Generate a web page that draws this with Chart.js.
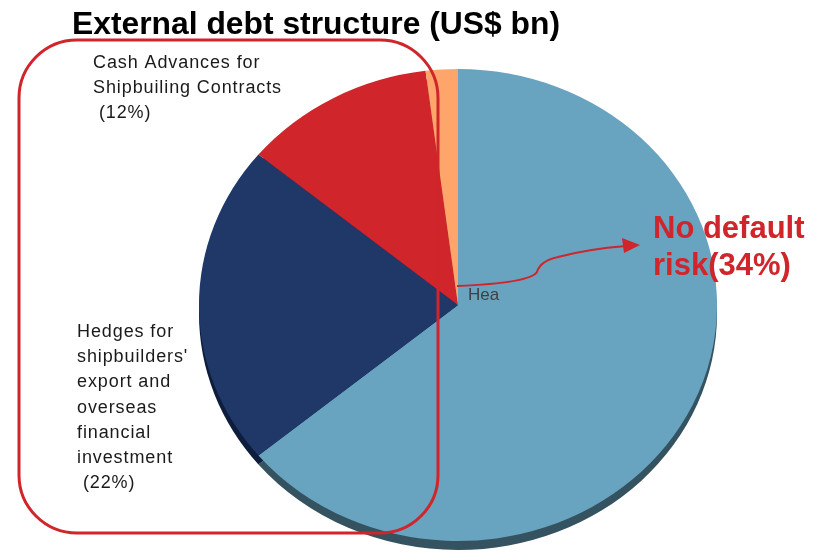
<!DOCTYPE html>
<html>
<head>
<meta charset="utf-8">
<title>External debt structure</title>
<script src="https://cdn.jsdelivr.net/npm/chart.js@4.4.1/dist/chart.umd.min.js"></script>
<style>
  html, body { margin: 0; padding: 0; background: #ffffff; }
  #wrap { position: relative; width: 824px; height: 554px; }
</style>
</head>
<body>
<div id="wrap"><canvas id="debt-chart"></canvas></div>
<script>
// Slices, clockwise from 12 o'clock
const categories = ['Hea', "Hedges for shipbuilders' export and overseas financial investment", 'Cash Advances for Shipbuiling Contracts', 'Other'];
const shares = [64, 22, 12, 2];
const sliceColors = ['#68a3c0', '#1f3868', '#cf252b', '#fda56b'];
const sideColors = ['#34525f', '#0e1d3b', '#7a1518', '#a8623a'];

const titleText = 'External debt structure (US$ bn)';
const RED = '#cf252b';
const FONT = '"Liberation Sans", Arial, sans-serif';

// pie is drawn as a circle then stretched sideways into a tilted disc
const STRETCH = 259 / 236;
const DEPTH = 9;

function withStretch(ctx, x, y, fn) {
    ctx.save();
    ctx.translate(x, y);
    ctx.scale(STRETCH, 1);
    ctx.translate(-x, -y);
    fn();
    ctx.restore();
}

const tiltedPie = {
    id: 'tiltedPie',
    beforeDatasetsDraw(chart) {
        const ctx = chart.ctx;
        const arcs = chart.getDatasetMeta(0).data;
        const c = arcs[0].getProps(['x', 'y']);
        // the disc's edge: same slices, darker, pushed down
        withStretch(ctx, c.x, c.y, function() {
            arcs.forEach(function(arc, i) {
                const p = arc.getProps(['x', 'y', 'startAngle', 'endAngle', 'outerRadius']);
                ctx.fillStyle = sideColors[i];
                ctx.beginPath();
                ctx.moveTo(p.x, p.y + DEPTH);
                ctx.arc(p.x, p.y + DEPTH, p.outerRadius, p.startAngle, p.endAngle);
                ctx.closePath();
                ctx.fill();
            });
        });
        ctx.save();
        ctx.translate(c.x, c.y);
        ctx.scale(STRETCH, 1);
        ctx.translate(-c.x, -c.y);
    },
    afterDatasetsDraw(chart) {
        chart.ctx.restore();
    }
};

function drawLines(ctx, lines, x, y, step) {
    lines.forEach(function(line, i) {
        ctx.fillText(line, x, y + i * step);
    });
}

const annotations = {
    id: 'annotations',
    afterDraw(chart) {
        const ctx = chart.ctx;
        const c = chart.getDatasetMeta(0).data[0].getProps(['x', 'y']);
        ctx.save();

        // title, squeezed like a narrow bold face
        ctx.fillStyle = '#000000';
        ctx.font = 'bold 31px ' + FONT;
        ctx.textBaseline = 'alphabetic';
        const tw = ctx.measureText(titleText).width;
        ctx.save();
        ctx.translate(72, 34);
        ctx.scale(488 / tw, 1);
        ctx.fillText(titleText, 0, 0);
        ctx.restore();

        // grouped box around the two hedge-related slices
        ctx.strokeStyle = RED;
        ctx.lineWidth = 3;
        ctx.beginPath();
        ctx.roundRect(19, 40, 419, 493, 58);
        ctx.stroke();

        // slice captions
        ctx.fillStyle = '#1a1a1a';
        ctx.font = '18px ' + FONT;
        ctx.letterSpacing = '0.9px';
        drawLines(ctx, ['Cash Advances for', 'Shipbuiling Contracts', ' (' + shares[2] + '%)'], 93, 68, 25);
        drawLines(ctx, ['Hedges for', "shipbuilders'", 'export and', 'overseas', 'financial', 'investment', ' (' + shares[1] + '%)'], 77, 337, 25.2);
        ctx.letterSpacing = '0px';

        ctx.fillStyle = '#404040';
        ctx.font = '17px ' + FONT;
        ctx.fillText(categories[0], c.x + 10, c.y - 5);

        // arrow from the centre out to the callout
        ctx.strokeStyle = RED;
        ctx.lineWidth = 2;
        ctx.beginPath();
        ctx.moveTo(c.x - 1, c.y - 19);
        ctx.quadraticCurveTo(c.x + 72, c.y - 22, c.x + 79, c.y - 33);
        ctx.quadraticCurveTo(c.x + 82, c.y - 44, c.x + 100, c.y - 48);
        ctx.quadraticCurveTo(c.x + 130, c.y - 56, c.x + 168, c.y - 59);
        ctx.stroke();
        ctx.fillStyle = RED;
        ctx.beginPath();
        ctx.moveTo(c.x + 182, c.y - 60);
        ctx.lineTo(c.x + 164, c.y - 67);
        ctx.lineTo(c.x + 166, c.y - 52);
        ctx.closePath();
        ctx.fill();

        ctx.font = 'bold 31px ' + FONT;
        drawLines(ctx, ['No default', 'risk(' + (shares[1] + shares[2]) + '%)'], 653, 238, 37);
        ctx.restore();
    }
};

new Chart(document.getElementById('debt-chart'), {
    type: 'pie',
    data: {
        labels: categories,
        datasets: [{
            data: shares,
            backgroundColor: sliceColors,
            borderWidth: 0,
            clip: false
        }]
    },
    options: {
        responsive: true,
        maintainAspectRatio: false,
        animation: false,
        layout: { padding: { top: 69, bottom: 13, left: 222, right: 130 } },
        plugins: {
            legend: { display: false },
            title: { display: false },
            tooltip: { enabled: false }
        }
    },
    plugins: [tiltedPie, annotations]
});
</script>
</body>
</html>
